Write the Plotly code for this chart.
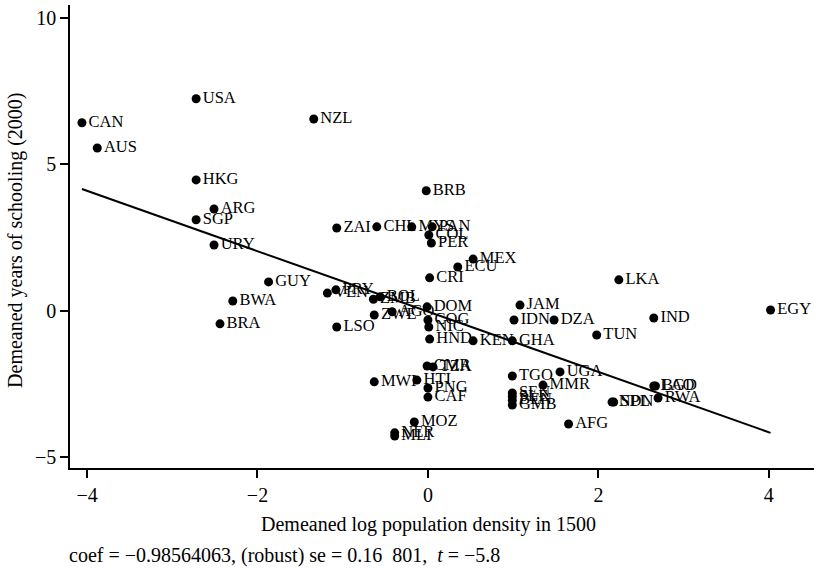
import plotly.graph_objects as go

countries = ["USA", "CAN", "AUS", "NZL", "HKG", "ARG", "SGP", "URY", "BRB", "ZAI",
             "CHL", "MYS", "PAN", "COL", "PER", "MEX", "ECU", "CRI", "GUY", "VEN",
             "PRY", "BOL", "ZMB", "BWA", "BRA", "LSO", "ZWE", "AGO", "DOM", "COG",
             "NIC", "HND", "KEN", "GHA", "JAM", "IDN", "DZA", "TUN", "LKA", "IND",
             "EGY", "CMR", "TZA", "MWI", "HTI", "PNG", "CAF", "TGO", "UGA", "MMR",
             "SEN", "SLE", "BEN", "GMB", "LAO", "BGD", "RWA", "NPL", "SDN", "AFG",
             "MOZ", "NER", "MLI"]
density = [-2.72, -4.06, -3.88, -1.34, -2.72, -2.51, -2.72, -2.51, -0.02, -1.07,
           -0.60, -0.19, 0.05, 0.01, 0.04, 0.53, 0.35, 0.02, -1.87, -1.18,
           -1.08, -0.56, -0.64, -2.29, -2.44, -1.07, -0.63, -0.42, -0.01, 0.00,
           0.01, 0.02, 0.53, 0.99, 1.08, 1.01, 1.48, 1.98, 2.24, 2.65,
           4.02, -0.01, 0.06, -0.63, -0.13, 0.00, 0.00, 0.99, 1.55, 1.35,
           0.99, 0.99, 0.99, 0.99, 2.65, 2.67, 2.70, 2.16, 2.18, 1.65,
           -0.16, -0.39, -0.39]
schooling = [7.24, 6.42, 5.56, 6.55, 4.47, 3.48, 3.11, 2.25, 4.10, 2.83,
             2.87, 2.87, 2.87, 2.59, 2.32, 1.77, 1.50, 1.13, 0.99, 0.61,
             0.72, 0.48, 0.40, 0.34, -0.44, -0.55, -0.14, -0.03, 0.14, -0.31,
             -0.55, -0.96, -1.02, -1.02, 0.20, -0.31, -0.31, -0.82, 1.06, -0.24,
             0.03, -1.88, -1.91, -2.42, -2.36, -2.63, -2.94, -2.22, -2.08, -2.53,
             -2.80, -2.92, -3.05, -3.21, -2.56, -2.56, -2.97, -3.11, -3.11, -3.86,
             -3.79, -4.16, -4.27]

fit_x = [-4.06, 4.02]
fit_y = [4.16, -4.16]

x_ticks = [-4, -2, 0, 2, 4]
x_tick_labels = ["\u22124", "\u22122", "0", "2", "4"]
y_ticks = [-5, 0, 5, 10]
y_tick_labels = ["\u22125", "0", "5", "10"]

FONT = "Liberation Serif, Times New Roman, serif"

fig = go.Figure()
fig.add_trace(go.Scatter(
    x=fit_x, y=fit_y, mode="lines",
    line=dict(color="black", width=2), hoverinfo="skip", showlegend=False))
fig.add_trace(go.Scatter(
    x=density, y=schooling, mode="markers+text", text=countries,
    textposition="middle right", cliponaxis=False,
    textfont=dict(family=FONT, size=16.5, color="black"),
    marker=dict(color="black", size=9), showlegend=False))

axis_common = dict(showgrid=False, zeroline=False, showline=True, linecolor="black",
                   linewidth=1.5, ticks="outside", ticklen=8, tickwidth=1.5,
                   tickcolor="black", tickfont=dict(family=FONT, size=20, color="black"),
                   automargin=False)

fig.update_layout(
    width=814, height=571,
    margin=dict(l=70, r=0, t=5, b=103),
    paper_bgcolor="white", plot_bgcolor="white",
    font=dict(family=FONT, color="black", size=20),
    xaxis=dict(range=[-4.2, 4.53], tickvals=x_ticks, ticktext=x_tick_labels,
               **axis_common),
    yaxis=dict(range=[-5.36, 10.44], tickvals=y_ticks, ticktext=y_tick_labels,
               **axis_common),
    annotations=[
        dict(text="Demeaned log population density in 1500",
             xref="paper", yref="paper", x=(428 - 70) / 744, y=-0.121,
             xanchor="center", yanchor="middle", showarrow=False,
             font=dict(family=FONT, size=20, color="black")),
        dict(text="Demeaned years of schooling (2000)", textangle=-90,
             xref="paper", yref="paper", x=-0.074, y=(468 - 240) / 463,
             xanchor="center", yanchor="middle", showarrow=False,
             font=dict(family=FONT, size=20, color="black")),
        dict(text="coef = \u22120.98564063, (robust) se = 0.16  801,  <i>t</i> = \u22125.8",
             xref="paper", yref="paper", x=-0.004, y=-0.190,
             xanchor="left", yanchor="middle", showarrow=False,
             font=dict(family=FONT, size=20, color="black")),
    ],
)

fig.write_html("out.html", config={"displayModeBar": False},
               post_script="document.body.style.margin='0';document.body.style.overflow='hidden';")
